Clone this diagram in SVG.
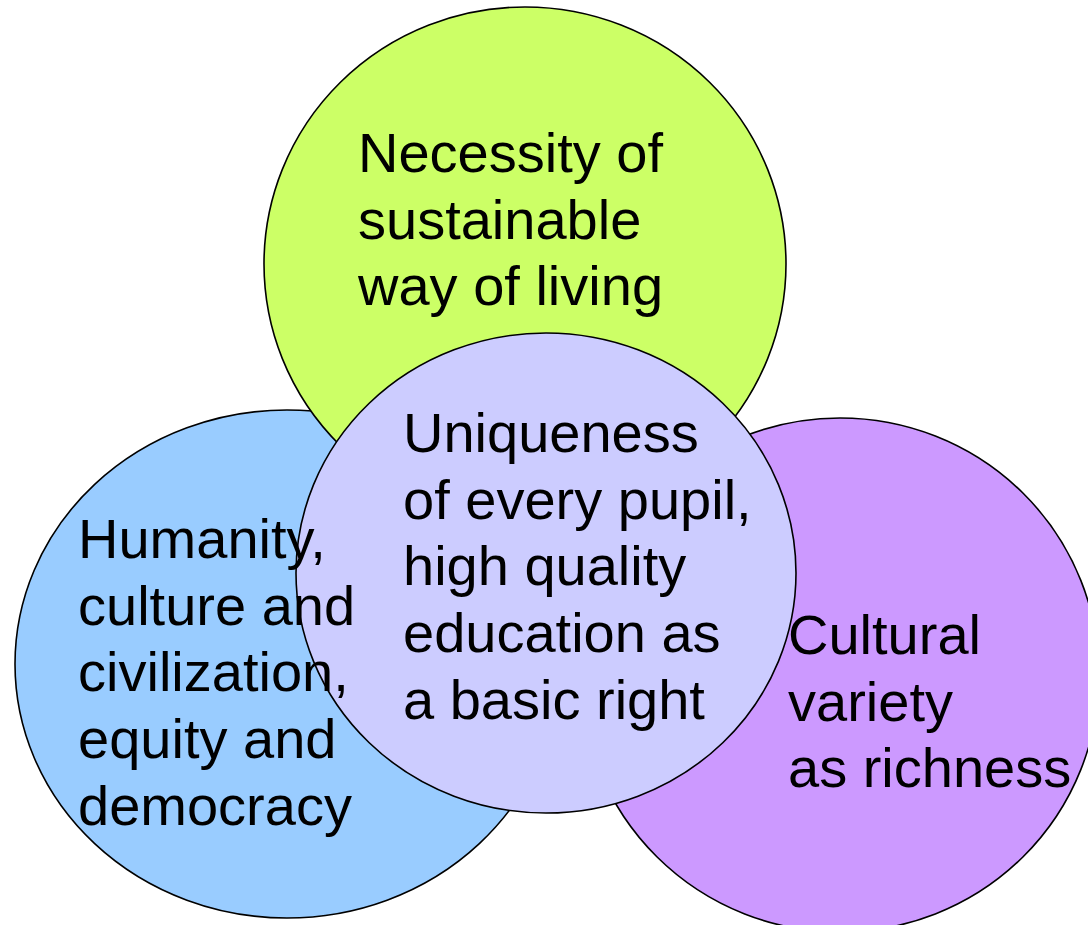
<svg xmlns="http://www.w3.org/2000/svg" width="1088" height="925" viewBox="0 0 1088 925">
  <style>
    .disc { stroke: #000; stroke-width: 1.6; }
    .label { font-family: "Liberation Sans", Arial, sans-serif; font-size: 56px; fill: #000; }
  </style>
  <rect width="1088" height="925" fill="#fff"/>

  <!-- value circles; the shared core sits on top -->
  <g id="nodes">
    <g id="humanity">
      <ellipse class="disc" cx="287" cy="664" rx="272" ry="254" fill="#99CCFF"/>
    </g>
    <g id="cultural-variety">
      <ellipse class="disc" cx="840" cy="675" rx="259" ry="257" fill="#CC99FF"/>
    </g>
    <g id="sustainability">
      <ellipse class="disc" cx="525" cy="264" rx="261" ry="257" fill="#CCFF66"/>
    </g>
    <g id="uniqueness">
      <ellipse class="disc" cx="546" cy="573" rx="250" ry="240" fill="#CCCCFF"/>
    </g>
  </g>

  <!-- labels drawn last so they stay readable across circle edges -->
  <g id="labels" class="label">
    <text id="sustainability-label" x="358" y="172">
      <tspan x="358">Necessity of</tspan>
      <tspan x="358" dy="66.7">sustainable</tspan>
      <tspan x="358" dy="66.7">way of living</tspan>
    </text>
    <text id="humanity-label" x="78" y="558">
      <tspan x="78">Humanity,</tspan>
      <tspan x="78" dy="66.7">culture and</tspan>
      <tspan x="78" dy="66.7">civilization,</tspan>
      <tspan x="78" dy="66.7">equity and</tspan>
      <tspan x="78" dy="66.7">democracy</tspan>
    </text>
    <text id="uniqueness-label" x="403" y="452">
      <tspan x="403">Uniqueness</tspan>
      <tspan x="403" dy="66.7">of every pupil,</tspan>
      <tspan x="403" dy="66.7">high quality</tspan>
      <tspan x="403" dy="66.7">education as</tspan>
      <tspan x="403" dy="66.7">a basic right</tspan>
    </text>
    <text id="cultural-variety-label" x="788" y="654">
      <tspan x="788">Cultural</tspan>
      <tspan x="788" dy="66.7">variety</tspan>
      <tspan x="788" dy="66.7">as richness</tspan>
    </text>
  </g>
</svg>
